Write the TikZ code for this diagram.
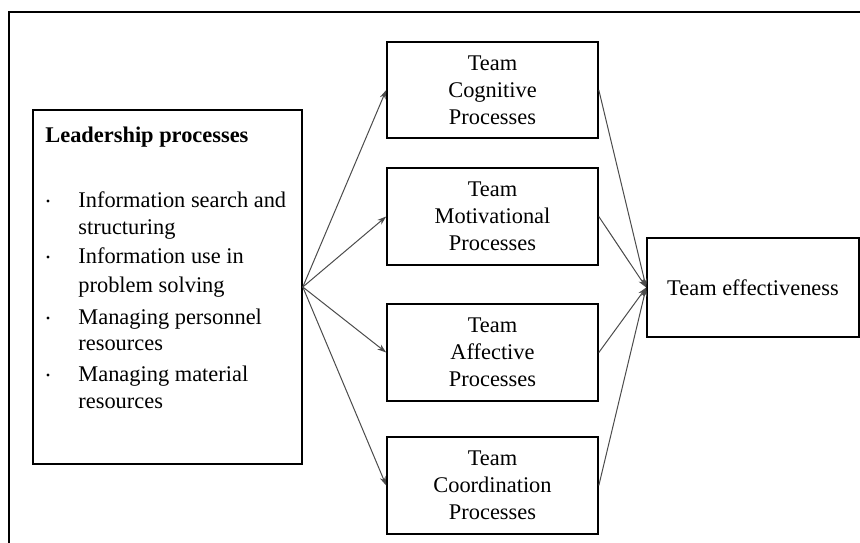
\documentclass[tikz,border=0pt]{standalone}
\usepackage{fontspec}
\setmainfont{Liberation Serif}
\usetikzlibrary{arrows.meta}

\tikzset{
  procbox/.style={draw=black, line width=0.8pt, inner sep=0pt, align=center,
    font=\fontsize{11.2}{13.5}\selectfont},
  itemtext/.style={anchor=base west, inner sep=0pt, font=\fontsize{11.2}{13.5}\selectfont},
  bulletdot/.style={circle, fill=black, inner sep=0pt, minimum size=1.6pt},
  flow/.style={draw=black!70, line width=0.5pt, -{Stealth[length=4.5pt,width=3pt]}},
}

\begin{document}
\begin{tikzpicture}[x=0.5pt, y=-0.5pt]
  \clip (0,0) rectangle (860,542);
  \fill[white] (0,0) rectangle (860,542);

  % outer frame (runs past the right and bottom edges)
  \draw[line width=0.9pt] (9,12) rectangle (900,600);

  % leadership box with its heading and list
  \node[procbox, minimum width=134.5pt, minimum height=177pt] (lead) at (167.5,287) {};
  \node[itemtext, font=\fontsize{11.2}{13.5}\selectfont\bfseries] (head) at (45,142) {Leadership processes};

  \node[bulletdot] (b1) at (48,201) {};
  \node[itemtext] (l1) at (78,207) {Information search and};
  \node[itemtext] (l2) at (78,234) {structuring};
  \node[bulletdot] (b2) at (48,257) {};
  \node[itemtext] (l3) at (78,263) {Information use in};
  \node[itemtext] (l4) at (78,292) {problem solving};
  \node[bulletdot] (b3) at (48,318) {};
  \node[itemtext] (l5) at (78,324) {Managing personnel};
  \node[itemtext] (l6) at (78,350) {resources};
  \node[bulletdot] (b4) at (48,375) {};
  \node[itemtext] (l7) at (78,381) {Managing material};
  \node[itemtext] (l8) at (78,408) {resources};

  % team process boxes
  \node[procbox, minimum width=105.5pt, minimum height=48pt]   (cog) at (492.5,90)    {Team\\Cognitive\\Processes};
  \node[procbox, minimum width=105.5pt, minimum height=48.5pt] (mot) at (492.5,216.5) {Team\\Motivational\\Processes};
  \node[procbox, minimum width=105.5pt, minimum height=48.5pt] (aff) at (492.5,352.5) {Team\\Affective\\Processes};
  \node[procbox, minimum width=105.5pt, minimum height=48.5pt] (coo) at (492.5,485.5) {Team\\Coordination\\Processes};

  % outcome box
  \node[procbox, minimum width=106pt, minimum height=49.5pt] (eff) at (753,287.5) {Team effectiveness};

  % connectors
  \foreach \t in {cog,mot,aff,coo} {
    \draw[flow] (lead.east) -- (\t.west);
    \draw[flow] (\t.east) -- (eff.west);
  }
\end{tikzpicture}
\end{document}
